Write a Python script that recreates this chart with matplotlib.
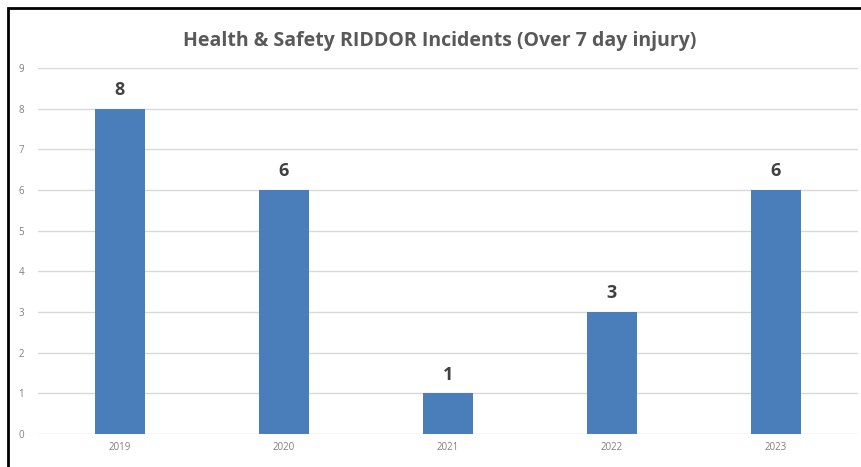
import matplotlib
matplotlib.use('Agg')
import matplotlib.pyplot as plt
from matplotlib.patches import Rectangle

years = ['2019', '2020', '2021', '2022', '2023']
incidents = [8, 6, 1, 3, 6]
yticks = [0, 1, 2, 3, 4, 5, 6, 7, 8, 9]

plt.rcParams['font.family'] = ['Open Sans', 'DejaVu Sans']

fig = plt.figure(figsize=(8.62, 4.67), dpi=100)
ax = fig.add_axes([0.044, 0.0707, 0.951, 0.7833])

x = list(range(len(years)))
ax.bar(x, incidents, width=0.305, color='#4a7ebb', zorder=3)
for xi, v in zip(x, incidents):
    ax.text(xi, v + 0.24, str(v), ha='center', va='bottom',
            fontsize=13, fontweight='bold', color='#404040')

ax.set_xlim(-0.5, len(years) - 0.5)
ax.set_ylim(0, 9)
ax.set_yticks(yticks)
ax.set_xticks(x)
ax.set_xticklabels(years)
ax.tick_params(axis='both', length=0, labelsize=7, colors='#808080')
ax.tick_params(axis='x', pad=6)
ax.tick_params(axis='y', pad=10)
ax.grid(axis='y', color='#d9d9d9', linewidth=1, zorder=0)
for s in ax.spines.values():
    s.set_visible(False)

fig.text(0.510, 0.913, 'Health & Safety RIDDOR Incidents (Over 7 day injury)',
         ha='center', va='center', fontsize=14, fontweight='bold', color='#595959')

# black frame round the chart (right and bottom sides run off the picture)
fig.patches.append(Rectangle((8 / 862, -0.05), 1.0, 1 - 8 / 467 + 0.05,
                             transform=fig.transFigure, fill=False,
                             edgecolor='black', linewidth=2))

fig.savefig('out.png', dpi=100)
